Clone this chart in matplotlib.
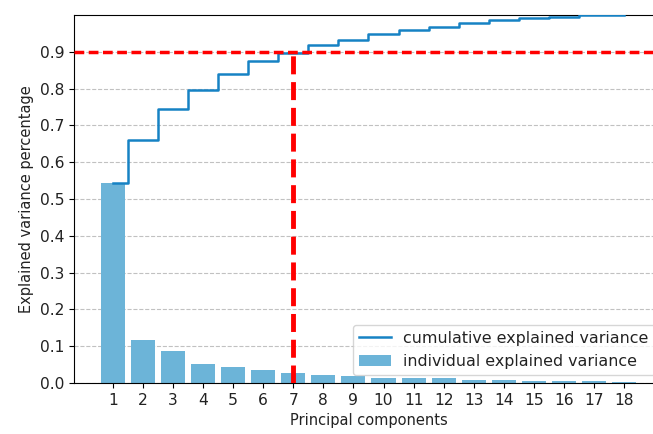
import matplotlib

matplotlib.use("Agg")
import matplotlib.pyplot as plt

# per-component explained variance (bars) and the cumulative step line
components = list(range(1, 19))
individual_var = [0.543, 0.117, 0.087, 0.052, 0.043, 0.035, 0.026, 0.022, 0.018,
                  0.014, 0.014, 0.013, 0.009, 0.008, 0.006, 0.005, 0.005, 0.004]
cumulative_var = [0.543, 0.659, 0.744, 0.797, 0.840, 0.874, 0.896, 0.918, 0.932,
                  0.948, 0.960, 0.968, 0.978, 0.985, 0.992, 0.995, 1.0, 1.0]
threshold = 0.9
n_keep = 7
yticks = [0.0, 0.1, 0.2, 0.3, 0.4, 0.5, 0.6, 0.7, 0.8, 0.9]

plt.rcParams["font.size"] = 10.5
plt.rcParams["xtick.labelsize"] = 11.2
plt.rcParams["ytick.labelsize"] = 11.2
plt.rcParams["text.color"] = "#222222"
plt.rcParams["axes.labelcolor"] = "#222222"
plt.rcParams["xtick.labelcolor"] = "#222222"
plt.rcParams["ytick.labelcolor"] = "#222222"

fig = plt.figure(figsize=(6.53, 4.34), dpi=100)
# right edge runs past the figure: the reference is a cropped screenshot
ax = fig.add_axes([0.1133, 0.1175, 0.902, 0.848])

ax.bar(components, individual_var, width=0.8, align="center",
       color="#6cb4d8", label="individual explained variance", zorder=2)
ax.step(components, cumulative_var, where="mid", color="#1682c4",
        linewidth=1.8, label="cumulative explained variance", zorder=3)

ax.axhline(threshold, color="red", linewidth=2.5, linestyle=(0, (2.8, 1.3)), zorder=4)
ax.vlines(n_keep, 0, threshold, color="red", linewidth=3.5,
          linestyles=(0, (3.7, 1.6)), zorder=4)

ax.set_xlim(-0.29, 19.29)
ax.set_ylim(0, 1.0)
ax.set_xticks(components)
ax.set_yticks(yticks)
ax.yaxis.grid(True, linestyle="--", color="0.6", alpha=0.6, zorder=0)
ax.set_axisbelow(True)

ax.set_xlabel("Principal components")
ax.set_ylabel("Explained variance percentage")
ax.legend(loc="lower right", fontsize=11.4)

fig.savefig("out.png", dpi=100)
